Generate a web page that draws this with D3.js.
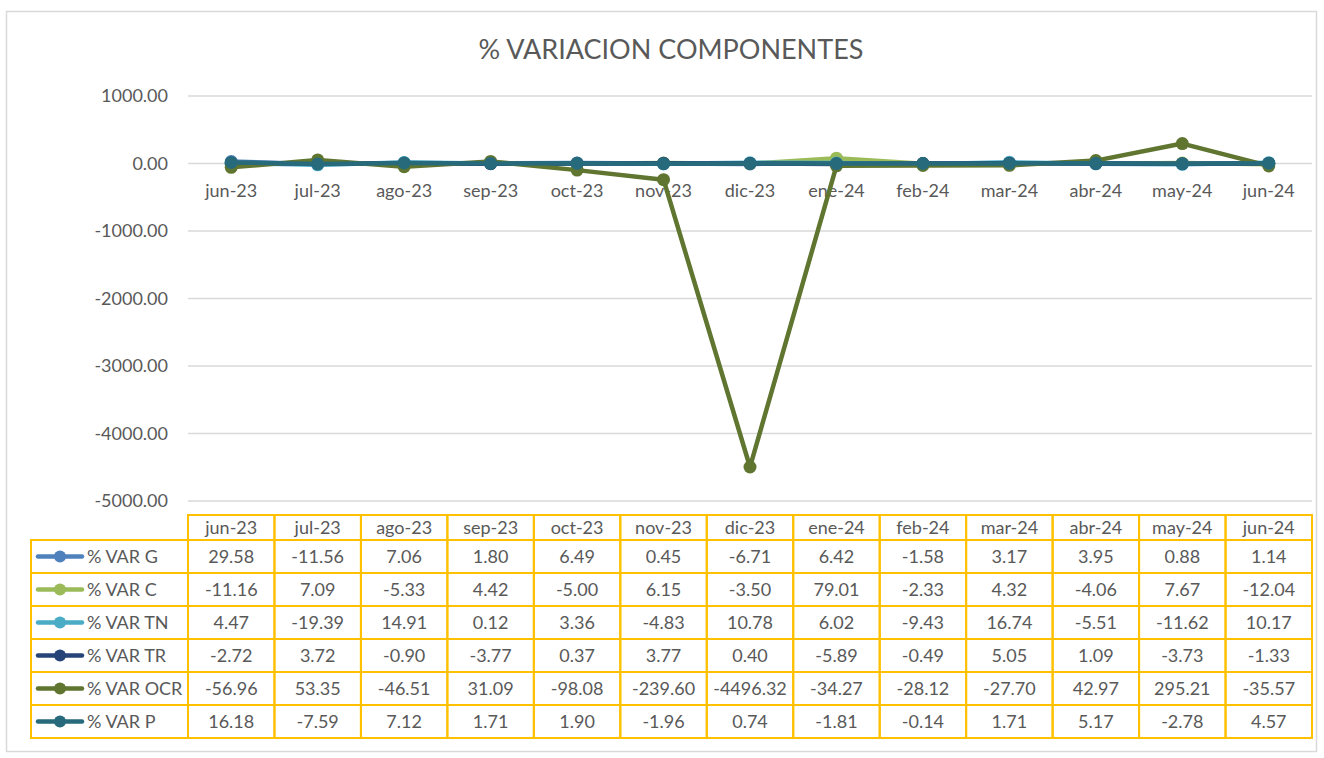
<!DOCTYPE html>
<meta charset="utf-8">
<style>
body { margin: 0; background: #fff; }
text { font-family: Lato, "Open Sans", sans-serif; fill: #595959; }
.grid line { stroke: #d9d9d9; stroke-width: 1.3px; }
.cell { fill: none; stroke: #ffc000; stroke-width: 2px; }
</style>
<body>
<svg width="1324" height="758"></svg>
<script src="https://cdn.jsdelivr.net/npm/d3@7"></script>
<script>

var months = ["jun-23","jul-23","ago-23","sep-23","oct-23","nov-23","dic-23","ene-24","feb-24","mar-24","abr-24","may-24","jun-24"]
var seriesNames = ["% VAR G","% VAR C","% VAR TN","% VAR TR","% VAR OCR","% VAR P"]
var varG   = [29.58,-11.56,7.06,1.80,6.49,0.45,-6.71,6.42,-1.58,3.17,3.95,0.88,1.14]
var varC   = [-11.16,7.09,-5.33,4.42,-5.00,6.15,-3.50,79.01,-2.33,4.32,-4.06,7.67,-12.04]
var varTN  = [4.47,-19.39,14.91,0.12,3.36,-4.83,10.78,6.02,-9.43,16.74,-5.51,-11.62,10.17]
var varTR  = [-2.72,3.72,-0.90,-3.77,0.37,3.77,0.40,-5.89,-0.49,5.05,1.09,-3.73,-1.33]
var varOCR = [-56.96,53.35,-46.51,31.09,-98.08,-239.60,-4496.32,-34.27,-28.12,-27.70,42.97,295.21,-35.57]
var varP   = [16.18,-7.59,7.12,1.71,1.90,-1.96,0.74,-1.81,-0.14,1.71,5.17,-2.78,4.57]
var yTicks = [1000,0,-1000,-2000,-3000,-4000,-5000]
var colors = ["#4f81bd","#9bbb59","#4bacc6","#264478","#5f7530","#276a7c"]

var allSeries = [varG,varC,varTN,varTR,varOCR,varP]
var fmt = d3.formatLocale({decimal:".",thousands:",",grouping:[3],currency:["",""],minus:"-"}).format(".2f")

var svg = d3.select("svg")

// chart frame
svg.append("rect").attr("x",6.5).attr("y",11.5).attr("width",1310).attr("height",740)
  .attr("fill","#fff").attr("stroke","#d9d9d9").attr("stroke-width",1.5)

svg.append("text").attr("x",671).attr("y",59).attr("text-anchor","middle")
  .attr("font-size",27).text("% VARIACION COMPONENTES")

var x = d3.scaleBand().domain(months).range([188,1312])
var y = d3.scaleLinear().domain([-5000,1000]).range([501,96])

// gridlines
svg.append("g").attr("class","grid").selectAll("line").data(yTicks).enter().append("line")
  .attr("x1",188).attr("x2",1312).attr("y1",d=>y(d)).attr("y2",d=>y(d))

svg.append("g").selectAll("text").data(yTicks).enter().append("text")
  .attr("x",168).attr("y",d=>y(d)+6).attr("text-anchor","end").attr("font-size",18)
  .text(d=>fmt(d))

// category labels under zero line
svg.append("g").selectAll("text").data(months).enter().append("text")
  .attr("x",d=>x(d)+x.bandwidth()/2).attr("y",y(0)+33).attr("text-anchor","middle")
  .attr("font-size",18).text(d=>d)

var line = d3.line().x((d,i)=>x(months[i])+x.bandwidth()/2).y(d=>y(d))

allSeries.forEach(function(s,k){
  var g = svg.append("g")
  g.append("path").attr("d",line(s)).attr("fill","none").attr("stroke",colors[k])
    .attr("stroke-width",4.5).attr("stroke-linejoin","round")
  g.selectAll("circle").data(s).enter().append("circle")
    .attr("cx",(d,i)=>x(months[i])+x.bandwidth()/2).attr("cy",d=>y(d)).attr("r",6.5)
    .attr("fill",colors[k])
})

// data table
var headTop = 515, headH = 25, rowH = 33, legX = 31
var tbl = svg.append("g")
tbl.selectAll("rect.h").data(months).enter().append("rect").attr("class","cell")
  .attr("x",d=>x(d)).attr("y",headTop).attr("width",x.bandwidth()).attr("height",headH)
tbl.selectAll("text.h").data(months).enter().append("text")
  .attr("x",d=>x(d)+x.bandwidth()/2).attr("y",headTop+19).attr("text-anchor","middle")
  .attr("font-size",18).text(d=>d)

allSeries.forEach(function(s,k){
  var top = headTop+headH+k*rowH
  tbl.append("rect").attr("class","cell").attr("x",legX).attr("y",top)
    .attr("width",188-legX).attr("height",rowH)
  tbl.append("line").attr("x1",38).attr("x2",82).attr("y1",top+rowH/2).attr("y2",top+rowH/2)
    .attr("stroke",colors[k]).attr("stroke-width",4.5).attr("stroke-linecap","round")
  tbl.append("circle").attr("cx",60).attr("cy",top+rowH/2).attr("r",6).attr("fill",colors[k])
  tbl.append("text").attr("x",87).attr("y",top+rowH/2+6).attr("font-size",18).text(seriesNames[k])
  tbl.selectAll("rect.r"+k).data(months).enter().append("rect").attr("class","cell")
    .attr("x",d=>x(d)).attr("y",top).attr("width",x.bandwidth()).attr("height",rowH)
  tbl.selectAll("text.r"+k).data(s).enter().append("text")
    .attr("x",(d,i)=>x(months[i])+x.bandwidth()/2).attr("y",top+rowH/2+6)
    .attr("text-anchor","middle").attr("font-size",18).text(d=>fmt(d))
})

</script>
</body>
